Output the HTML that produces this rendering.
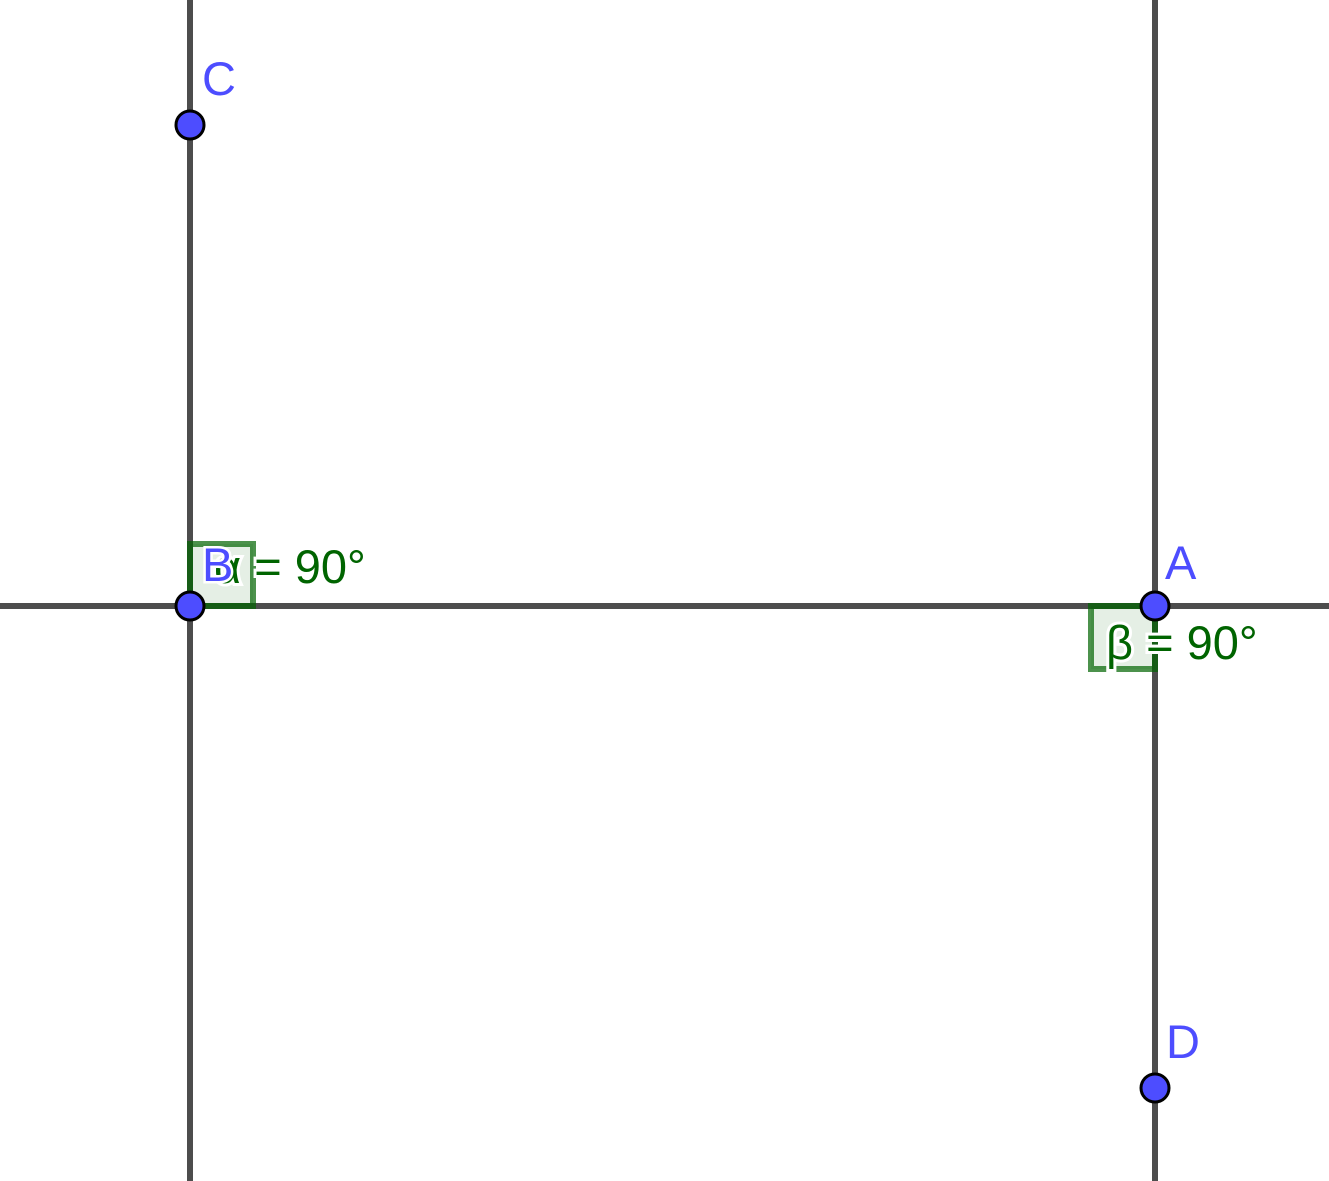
<!DOCTYPE html>
<html><head><meta charset="utf-8"><style>
html,body{margin:0;padding:0;background:#fff;}
svg{display:block;}
text{font-family:"Liberation Sans",sans-serif;font-size:47px;}
</style></head><body>
<svg id="fig" width="1329" height="1181" viewBox="0 0 1329 1181">
<line x1="190" y1="0" x2="190" y2="1181" stroke="#4d4d4d" stroke-width="6"/>
<line x1="1155" y1="0" x2="1155" y2="1181" stroke="#4d4d4d" stroke-width="6"/>
<line x1="0" y1="606" x2="1329" y2="606" stroke="#4d4d4d" stroke-width="6"/>
<g>
<rect x="190" y="544" width="63" height="62" fill="#006400" fill-opacity="0.1" stroke="#006400" stroke-opacity="0.7" stroke-width="6"/>
<text x="214" y="583" fill="#006400" stroke="#fff" stroke-width="6" paint-order="stroke">α = 90°</text>
</g>
<g>
<rect x="1091" y="606" width="64" height="63" fill="#006400" fill-opacity="0.1" stroke="#006400" stroke-opacity="0.7" stroke-width="6"/>
<text x="1106" y="659" fill="#006400" stroke="#fff" stroke-width="6" paint-order="stroke">β = 90°</text>
</g>
<g id="pts"></g>
</svg>
<script>
const pointNames=["C","B","A","D"];
const pointX=[190,190,1155,1155];
const pointY=[125,606,606,1088];
const labelDx=[12,12,10,11];
const labelDy=[-30,-25,-27,-30];
const g=document.getElementById('pts');
const ns="http://www.w3.org/2000/svg";
for(let i=0;i<pointNames.length;i++){
  const c=document.createElementNS(ns,'circle');
  c.setAttribute('cx',pointX[i]);c.setAttribute('cy',pointY[i]);c.setAttribute('r',14);
  c.setAttribute('fill','#4d4dff');c.setAttribute('stroke','#000');c.setAttribute('stroke-width','3');
  
  
  g.appendChild(c);
  const t=document.createElementNS(ns,'text');
  t.setAttribute('x',pointX[i]+labelDx[i]);t.setAttribute('y',pointY[i]+labelDy[i]);
  t.setAttribute('fill','#4d4dff');t.setAttribute('stroke','#fff');t.setAttribute('stroke-width','5');t.setAttribute('paint-order','stroke');
  t.textContent=pointNames[i];
  
  
  g.appendChild(t);
}
</script>
</body></html>
